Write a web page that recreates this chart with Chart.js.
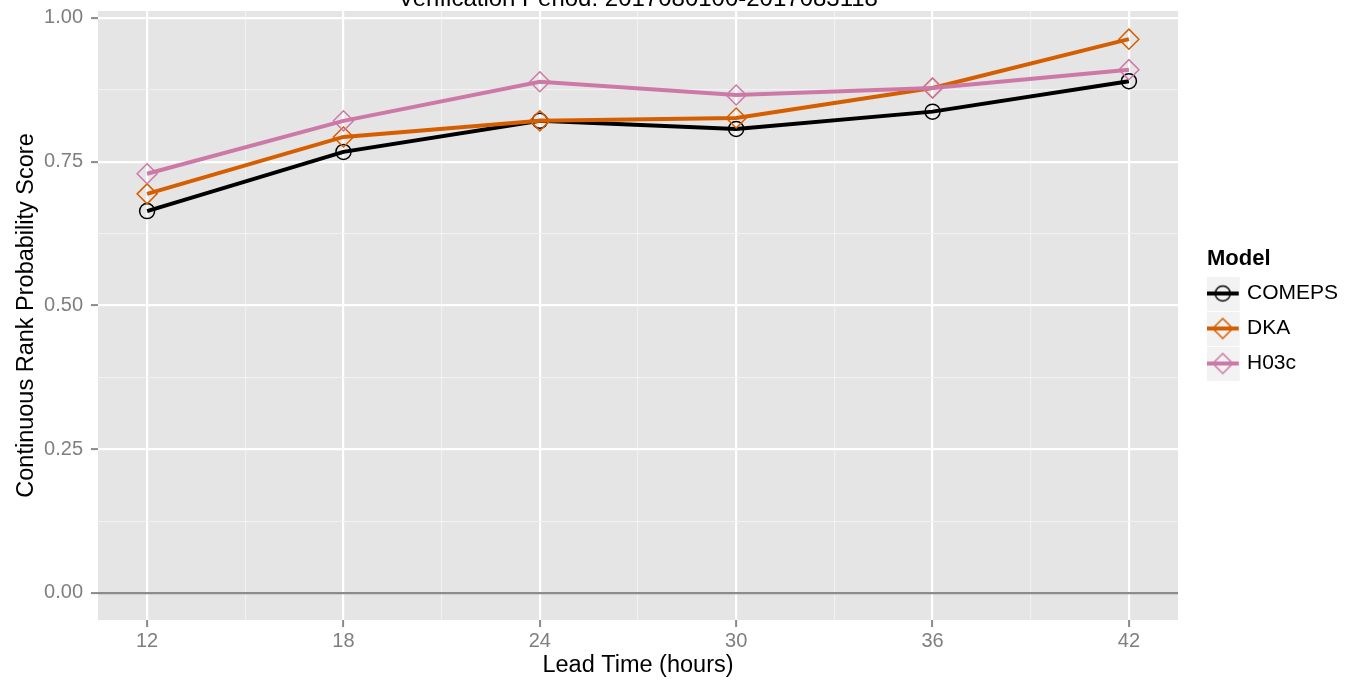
<!DOCTYPE html>
<html>
<head>
<meta charset="utf-8">
<script src="https://cdn.jsdelivr.net/npm/chart.js@4"></script>
<style>
    html, body { margin: 0; padding: 0; background: #fff; overflow: hidden; }
    #wrap { position: absolute; left: 0; top: -20px; width: 1359px; height: 700px; }
</style>
</head>
<body>
<div id="wrap"><canvas id="crpsChart"></canvas></div>
<script>
const leadTimes = [12, 18, 24, 30, 36, 42];
const xMinorTicks = [15, 21, 27, 33, 39];
const yMajorTicks = [0, 0.25, 0.5, 0.75, 1];
const yMinorTicks = [0.125, 0.375, 0.625, 0.875];

const modelNames = ['COMEPS', 'DKA', 'H03c'];
const comepsScores = [0.664, 0.767, 0.821, 0.807, 0.837, 0.890];
const dkaScores = [0.694, 0.793, 0.821, 0.826, 0.878, 0.963];
const h03cScores = [0.729, 0.821, 0.889, 0.866, 0.878, 0.910];

const modelColors = ['#000000', '#D55E00', '#CC79A7'];
const modelShapes = ['circle', 'rectRot', 'rectRot'];
const shapeRadius = { circle: 7.5, rectRot: 10 };

const FONT = "'Liberation Sans', Arial, Helvetica, sans-serif";

// legend keys: grey square, line through it, open marker on top
function makeKey(color, shape) {
    const c = document.createElement('canvas');
    c.width = 46;
    c.height = 34;
    const g = c.getContext('2d');
    g.fillStyle = '#F2F2F2';
    g.fillRect(0, 0, 34, 34);
    g.strokeStyle = color;
    g.lineWidth = 4;
    g.beginPath();
    g.moveTo(1, 17);
    g.lineTo(33, 17);
    g.stroke();
    g.lineWidth = 1.5;
    g.beginPath();
    if (shape === 'circle') {
        g.arc(17, 17, 7.5, 0, Math.PI * 2);
    } else {
        g.moveTo(17, 7);
        g.lineTo(27, 17);
        g.lineTo(17, 27);
        g.lineTo(7, 17);
        g.closePath();
    }
    g.stroke();
    return c;
}

const seriesValues = [comepsScores, dkaScores, h03cScores];
const keyImages = modelNames.map((m, i) => makeKey(modelColors[i], modelShapes[i]));

const datasets = modelNames.map((name, i) => ({
    label: name,
    data: leadTimes.map((t, j) => ({ x: t, y: seriesValues[i][j] })),
    borderColor: modelColors[i],
    backgroundColor: modelColors[i],
    borderWidth: 4,
    tension: 0,
    pointStyle: modelShapes[i],
    pointRadius: shapeRadius[modelShapes[i]],
    pointHoverRadius: shapeRadius[modelShapes[i]],
    pointBorderWidth: 1.5,
    pointBorderColor: modelColors[i],
    pointBackgroundColor: 'rgba(0,0,0,0)',
    order: modelNames.length - i
}));

const panelBackground = {
    id: 'panelBackground',
    beforeDraw(chart) {
        const { ctx, chartArea } = chart;
        ctx.save();
        ctx.fillStyle = '#E5E5E5';
        ctx.fillRect(chartArea.left, chartArea.top, chartArea.right - chartArea.left, chartArea.bottom - chartArea.top);
        ctx.restore();
    }
};

const isMajorX = v => leadTimes.includes(v);
const isMajorY = v => yMajorTicks.some(t => Math.abs(t - v) < 1e-9);

new Chart(document.getElementById('crpsChart'), {
    type: 'line',
    data: { datasets: datasets },
    plugins: [panelBackground],
    options: {
        responsive: true,
        maintainAspectRatio: false,
        animation: false,
        layout: { padding: { right: 11 } },
        scales: {
            x: {
                type: 'linear',
                min: 10.5,
                max: 43.5,
                afterBuildTicks: scale => {
                    scale.ticks = leadTimes.concat(xMinorTicks).sort((a, b) => a - b).map(v => ({ value: v }));
                },
                afterFit: scale => { scale.height = 60; },
                border: { display: false },
                grid: {
                    color: ctx => isMajorX(ctx.tick.value) ? '#FFFFFF' : '#F2F2F2',
                    lineWidth: ctx => isMajorX(ctx.tick.value) ? 2.2 : 1.1,
                    tickColor: ctx => isMajorX(ctx.tick.value) ? '#8A8A8A' : 'rgba(0,0,0,0)',
                    tickLength: 7,
                    tickWidth: 2
                },
                ticks: {
                    autoSkip: false,
                    maxRotation: 0,
                    padding: 2,
                    color: '#7F7F7F',
                    font: { family: FONT, size: 20 },
                    callback: v => isMajorX(v) ? String(v) : ''
                },
                title: {
                    display: true,
                    text: 'Lead Time (hours)',
                    color: '#000000',
                    font: { family: FONT, size: 23.5 },
                    padding: { top: 0, bottom: 0 }
                }
            },
            y: {
                min: -0.047,
                max: 1.012,
                afterBuildTicks: scale => {
                    scale.ticks = yMajorTicks.concat(yMinorTicks).sort((a, b) => a - b).map(v => ({ value: v }));
                },
                afterFit: scale => { scale.width = 98; },
                border: { display: false },
                grid: {
                    color: ctx => ctx.tick.value === 0 ? '#8C8C8C' : (isMajorY(ctx.tick.value) ? '#FFFFFF' : '#F2F2F2'),
                    lineWidth: ctx => isMajorY(ctx.tick.value) ? 2.2 : 1.1,
                    tickColor: ctx => isMajorY(ctx.tick.value) ? '#8A8A8A' : 'rgba(0,0,0,0)',
                    tickLength: 7,
                    tickWidth: 2
                },
                ticks: {
                    autoSkip: false,
                    padding: 8,
                    color: '#7F7F7F',
                    font: { family: FONT, size: 20 },
                    callback: v => isMajorY(v) ? v.toFixed(2) : ''
                },
                title: {
                    display: true,
                    text: 'Continuous Rank Probability Score',
                    color: '#000000',
                    font: { family: FONT, size: 23.5 },
                    padding: { top: 12, bottom: 0 }
                }
            },
            // empty scale, only keeps a gap between panel and legend
            gap: {
                position: 'right',
                display: true,
                grid: { display: false },
                ticks: { display: false },
                border: { display: false },
                afterFit: scale => { scale.width = 29; }
            }
        },
        plugins: {
            title: {
                display: true,
                fullSize: false,
                text: 'Verification Period: 2017080100-2017083118',
                color: '#000000',
                font: { family: FONT, size: 24, weight: 'normal', lineHeight: 1 },
                padding: { top: 7, bottom: 0 }
            },
            legend: {
                position: 'right',
                align: 'start',
                title: {
                    display: true,
                    position: 'start',
                    text: 'Model',
                    color: '#000000',
                    font: { family: FONT, size: 22, weight: 'bold', lineHeight: 1 },
                    padding: { top: 268, bottom: -1 }
                },
                labels: {
                    usePointStyle: true,
                    pointStyleWidth: 15.5,
                    padding: 14,
                    color: '#000000',
                    font: { family: FONT, size: 21 },
                    generateLabels: chart => chart.data.datasets.map((ds, i) => ({
                        text: ds.label,
                        pointStyle: keyImages[i],
                        fillStyle: 'rgba(0,0,0,0)',
                        strokeStyle: 'rgba(0,0,0,0)',
                        lineWidth: 0,
                        fontColor: '#000000',
                        hidden: false,
                        datasetIndex: i
                    }))
                },
                onClick: () => {}
            },
            tooltip: { enabled: false }
        }
    }
});
</script>
</body>
</html>
